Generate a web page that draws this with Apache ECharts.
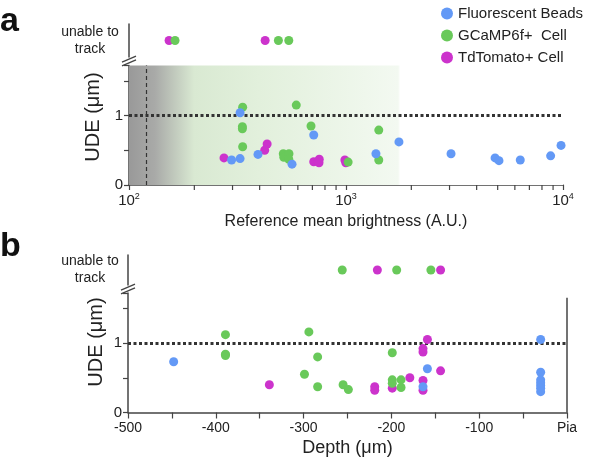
<!DOCTYPE html>
<html><head><meta charset="utf-8">
<script src="https://cdn.jsdelivr.net/npm/echarts@6/dist/echarts.min.js"></script>
<style>html,body{margin:0;padding:0;background:#fff}#c{width:600px;height:468px}</style>
</head><body><div id="c"></div>
<script>
// ---- Panel a: reference mean brightness (A.U.) vs UDE (µm)
const beadsA = [[297,0.36],[325,0.38],[325,1.04],[393,0.44],[564,0.30],[710,0.72],[1374,0.45],[1754,0.62],[3048,0.45],[4864,0.39],[5070,0.35],[6355,0.36],[8770,0.42],[9795,0.57]];
const gcampA = [[334,1.12],[333,0.84],[333,0.81],[334,0.55],[514,0.45],[517,0.40],[546,0.45],[545,0.37],[590,1.15],[690,0.85],[1023,0.33],[1416,0.79],[1416,0.36]];
const tdA = [[274,0.39],[422,0.50],[433,0.59],[710,0.335],[745,0.335],[753,0.37],[751,0.32],[988,0.36],[998,0.32]];
const gcampA_untracked = [163,488,545];
const tdA_untracked = [153,424];
// ---- Panel b: depth (µm) vs UDE (µm)
const beadsB = [[-448,0.73],[-159,0.63],[-164,0.37],[-30,1.05],[-30,0.58],[-30,0.47],[-30,0.43],[-30,0.39],[-30,0.35],[-30,0.30]];
const gcampB = [[-389,1.12],[-389,0.84],[-389,0.82],[-299,0.55],[-294,1.16],[-284,0.80],[-284,0.37],[-255,0.40],[-249,0.33],[-199,0.86],[-199,0.47],[-199,0.42],[-189,0.47],[-189,0.36]];
const tdB = [[-339,0.40],[-219,0.37],[-219,0.32],[-199,0.35],[-179,0.50],[-164,0.92],[-164,0.87],[-159,1.05],[-164,0.46],[-164,0.32],[-144,0.60]];
const gcampB_untracked = [-256,-194,-155];
const tdB_untracked = [-216,-144];
// ---- axes / labels
const seriesNames = ['Fluorescent Beads','GCaMP6f+  Cell','TdTomato+ Cell'];
const untrackedLabel = 'unable to\ntrack';
const minorLogTicks = [200,300,400,500,600,700,800,900,2000,3000,4000,5000,6000,7000,8000,9000];
const brightnessThreshold = 120;
const udeThreshold = 1;

const FONT = 'Arial, "Liberation Sans", sans-serif';
const BLUE = '#6399f6', GREEN = '#69c95a', MAGENTA = '#cc33cc';
const AX = '#444', TXT = '#222';

const chart = echarts.init(document.getElementById('c'));
const axisLine = {show:true, onZero:false, lineStyle:{color:AX, width:1.5}};
const mainY = (gi) => ({
  type:'value', gridIndex:gi, position:'left', min:0, max:1.72, interval:0.5,
  axisLine, axisTick:{show:true, length:5, lineStyle:{color:AX, width:1.2}},
  splitLine:{show:false},
  axisLabel:{fontFamily:FONT, fontSize:15, color:TXT, margin:6,
    formatter:v => (v===0||v===1) ? String(v) : ''}
});
const topY = (gi, margin) => ({
  type:'category', gridIndex:gi, position:'left', data:[untrackedLabel],
  axisLine, axisTick:{show:false}, splitLine:{show:false},
  axisLabel:{fontFamily:FONT, fontSize:14, color:TXT, lineHeight:17, align:'center', margin:margin}
});
const sym = 9;
const sc = (name, data, xi, color, extra) => Object.assign({
  type:'scatter', name, data, xAxisIndex:xi, yAxisIndex:xi, symbolSize:sym,
  itemStyle:{color, opacity:1}, z:3
}, extra||{});

const option = {
  animation:false,
  legend:{
    data:seriesNames, orient:'vertical', left:436, top:1, itemGap:7,
    icon:'circle', itemWidth:12, itemHeight:12,
    textStyle:{fontFamily:FONT, fontSize:15, color:TXT}
  },
  grid:[
    {left:129, right:37, top:65.5, height:119.5},
    {left:129, right:37, top:24, height:33},
    {left:128, right:33, top:293, height:119.5},
    {left:128, right:33, top:255, height:30}
  ],
  xAxis:[
    {type:'log', logBase:10, min:100, max:10000, gridIndex:0, position:'bottom',
     axisLine, axisTick:{show:true, length:5, lineStyle:{color:AX, width:1.2}}, splitLine:{show:false},
     axisLabel:{fontFamily:FONT, color:TXT, margin:7,
       formatter:v => '{b|10}{s|' + Math.round(Math.log10(v)) + '}',
       rich:{b:{fontFamily:FONT, fontSize:15, color:TXT}, s:{fontFamily:FONT, fontSize:9, color:TXT, padding:[0,0,8,0]}}},
     name:'Reference mean brightness (A.U.)', nameLocation:'middle', nameGap:29,
     nameTextStyle:{fontFamily:FONT, fontSize:16, color:TXT}},
    {type:'log', logBase:10, min:100, max:10000, gridIndex:1, show:false},
    {type:'value', min:-500, max:0, interval:100, gridIndex:2, position:'bottom',
     axisLine, axisTick:{show:true, length:6, lineStyle:{color:AX, width:1.2}},
     minorTick:{show:true, splitNumber:2, length:6, lineStyle:{color:AX, width:1.2}},
     splitLine:{show:false},
     axisLabel:{fontFamily:FONT, fontSize:14, color:TXT, margin:9, formatter:v => v===0 ? 'Pia' : String(v)},
     name:'Depth (μm)', nameLocation:'middle', nameGap:27,
     nameTextStyle:{fontFamily:FONT, fontSize:18, color:TXT}},
    {type:'value', min:-500, max:0, gridIndex:3, show:false}
  ],
  yAxis:[ mainY(0), topY(1, 39), mainY(2), topY(3, 38) ],
  series:[
    // panel a
    sc(seriesNames[2], tdA, 0, MAGENTA, {
      markArea:{silent:true, z:1, itemStyle:{color:{type:'linear', x:0, y:0, x2:1, y2:0, colorStops:[
        {offset:0, color:'#999999'}, {offset:0.06, color:'#a9aaa8'}, {offset:0.15, color:'#d9e9d2'},
        {offset:0.3, color:'#e2f0dc'}, {offset:0.62, color:'#f3f9f1'}, {offset:0.625, color:'#ffffff'}, {offset:1, color:'#ffffff'}]}},
        data:[[{xAxis:100, yAxis:0},{xAxis:10000, yAxis:1.72}]]},
      markLine:{silent:true, symbol:'none', label:{show:false}, animation:false, z:2,
        data:[
          {yAxis:udeThreshold, lineStyle:{type:[3,2.5], width:3, color:'#333'}},
          {xAxis:brightnessThreshold, lineStyle:{type:[4,3], width:1.2, color:'#333'}}
        ]}
    }),
    sc(seriesNames[1], gcampA, 0, GREEN),
    sc(seriesNames[0], beadsA, 0, BLUE),
    sc(seriesNames[2], tdA_untracked.map(x => [x, untrackedLabel]), 1, MAGENTA),
    sc(seriesNames[1], gcampA_untracked.map(x => [x, untrackedLabel]), 1, GREEN),
    // panel b
    sc(seriesNames[2], tdB, 2, MAGENTA, {
      markLine:{silent:true, symbol:'none', label:{show:false}, animation:false, z:2,
        data:[
          {yAxis:udeThreshold, lineStyle:{type:[3,2.5], width:3, color:'#333'}},
          [{coord:[0,0], lineStyle:{type:'solid', width:1.5, color:AX}}, {coord:[0,1.65]}]
        ]}
    }),
    sc(seriesNames[1], gcampB, 2, GREEN),
    sc(seriesNames[0], beadsB, 2, BLUE),
    sc(seriesNames[1], gcampB_untracked.map(x => [x, untrackedLabel]), 3, GREEN),
    sc(seriesNames[2], tdB_untracked.map(x => [x, untrackedLabel]), 3, MAGENTA)
  ]
};
chart.setOption(option);

// decorations: minor log ticks, axis breaks, titles, panel letters
const g = [];
const y0a = chart.convertToPixel({yAxisIndex:0}, 0);
minorLogTicks.forEach(v => {
  const px = chart.convertToPixel({xAxisIndex:0}, v);
  g.push({type:'line', shape:{x1:px, y1:y0a, x2:px, y2:y0a+5}, style:{stroke:AX, lineWidth:1.2}, silent:true});
});
function brk(ax, cy) {
  [-1.8, 1.8].forEach(d => {
    g.push({type:'line', shape:{x1:ax-7, y1:cy+d+3, x2:ax+7, y2:cy+d-3}, style:{stroke:AX, lineWidth:1.4}, silent:true, z:10});
  });
}
brk(129, 61);
brk(128, 289);
g.push({type:'text', x:93, y:117, rotation:Math.PI/2, style:{text:'UDE (μm)', fontFamily:FONT, fontSize:20, fill:TXT, align:'center', verticalAlign:'middle'}});
g.push({type:'text', x:96, y:342, rotation:Math.PI/2, style:{text:'UDE (μm)', fontFamily:FONT, fontSize:20, fill:TXT, align:'center', verticalAlign:'middle'}});
g.push({type:'text', x:0, y:22, style:{text:'a', fontFamily:FONT, fontSize:34, fontWeight:'bold', fill:'#111', verticalAlign:'middle'}});
g.push({type:'text', x:0, y:247, style:{text:'b', fontFamily:FONT, fontSize:34, fontWeight:'bold', fill:'#111', verticalAlign:'middle'}});
chart.setOption({graphic:g});
</script></body></html>
